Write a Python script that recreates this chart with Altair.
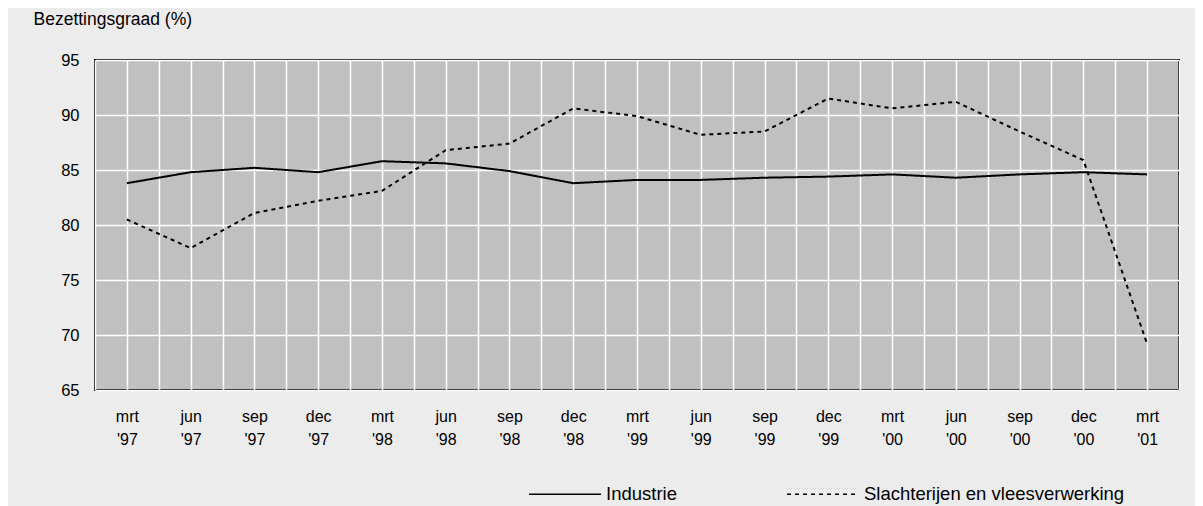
import json
import numpy as np
import pandas as pd
import altair as alt

quarters = ["mrt '97", "jun '97", "sep '97", "dec '97",
            "mrt '98", "jun '98", "sep '98", "dec '98",
            "mrt '99", "jun '99", "sep '99", "dec '99",
            "mrt '00", "jun '00", "sep '00", "dec '00",
            "mrt '01"]
industrie = [83.8, 84.8, 85.2, 84.8, 85.8, 85.6, 84.9, 83.8, 84.1, 84.1,
             84.3, 84.4, 84.6, 84.3, 84.6, 84.8, 84.6]
slachterijen = [80.5, 77.9, 81.1, 82.2, 83.1, 86.8, 87.4, 90.6, 89.9, 88.2,
                88.5, 91.5, 90.6, 91.2, 88.5, 85.9, 69.2]
series_names = ["Industrie", "Slachterijen en vleesverwerking"]
y_ticks = [65, 70, 75, 80, 85, 90, 95]

rows = []
for i, q in enumerate(quarters):
    rows.append({"idx": i, "q": q, "serie": series_names[0], "v": industrie[i]})
    rows.append({"idx": i, "q": q, "serie": series_names[1], "v": slachterijen[i]})
df = pd.DataFrame(rows)

label_arr = json.dumps([q.split(" ") for q in quarters])
grid_vals = [float(v) for v in np.arange(-0.5, len(quarters), 0.5)]
FONT = "Liberation Sans"

chart = alt.Chart(df).mark_line(color="black", strokeWidth=2).encode(
    x=alt.X("idx:Q",
            scale=alt.Scale(domain=[-0.5, len(quarters) - 0.5], nice=False, zero=False),
            axis=alt.Axis(values=grid_vals, title=None, ticks=False, domain=False,
                          grid=True, gridColor="white", gridWidth=1.5, gridOpacity=1,
                          labelExpr=f"datum.value % 1 == 0 ? {label_arr}[datum.value] : ''",
                          labelOverlap=False, labelFlush=False, labelBound=False,
                          labelPadding=18, labelBaseline="top", labelLineHeight=23,
                          labelFontSize=16, labelFont=FONT, labelColor="black")),
    y=alt.Y("v:Q",
            scale=alt.Scale(domain=[65, 95], nice=False, zero=False),
            axis=alt.Axis(values=y_ticks, title="Bezettingsgraad (%)", ticks=False,
                          domain=False, grid=True, gridColor="white", gridWidth=1.5,
                          gridOpacity=1, labelPadding=16, labelFontSize=16.5,
                          labelFont=FONT, labelColor="black",
                          titleAngle=0, titleAlign="left", titleBaseline="alphabetic",
                          titleX=-62, titleY=-36, titleFont=FONT, titleFontSize=17.5,
                          titleFontWeight="normal", titleColor="black")),
    strokeDash=alt.StrokeDash("serie:N",
                              scale=alt.Scale(domain=series_names, range=[[1, 0], [4, 4]]),
                              legend=alt.Legend(title=None, orient="none", direction="horizontal",
                                                legendX=433, legendY=397,
                                                symbolType="stroke", symbolSize=5184,
                                                symbolStrokeWidth=1.5, symbolStrokeColor="black",
                                                labelOffset=4, columnPadding=107,
                                                labelLimit=500,
                                                labelFont=FONT, labelFontSize=18.5,
                                                labelColor="black")),
    detail="serie:N",
).properties(
    width=1084, height=330,
    background="#ececec",
    padding={"left": 87, "top": 52, "right": 16, "bottom": 116},
    autosize=alt.AutoSizeParams(type="none"),
).configure_view(
    fill="#c0c0c0", stroke="black", strokeWidth=2
)

chart.save("out.html", embed_options={"renderer": "svg", "actions": False})
